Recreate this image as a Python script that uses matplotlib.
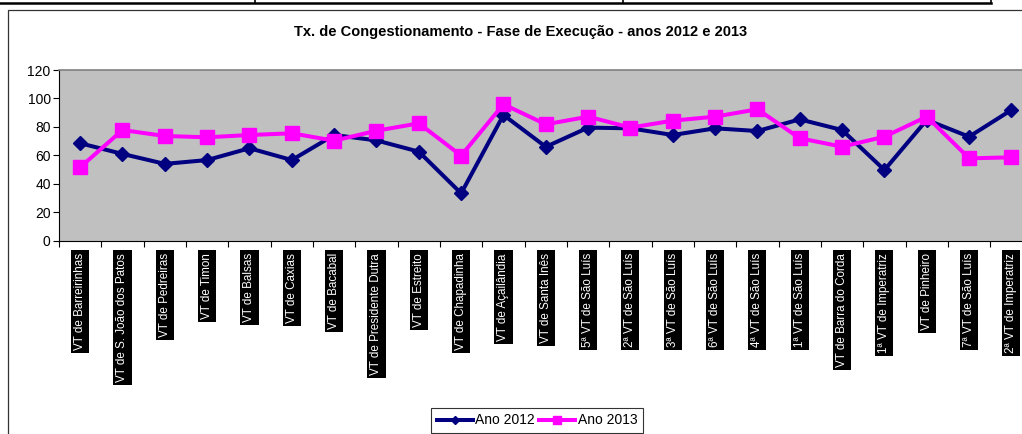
import numpy as np
import matplotlib.pyplot as plt
from matplotlib.lines import Line2D
from matplotlib.patches import Rectangle

plt.rcParams['font.family'] = ['Liberation Sans', 'DejaVu Sans']

# Data
varas = [
    "VT de Barreirinhas", "VT de S. João dos Patos", "VT de Pedreiras", "VT de Timon",
    "VT de Balsas", "VT de Caxias", "VT de Bacabal", "VT de Presidente Dutra",
    "VT de Estreito", "VT de Chapadinha", "VT de Açailândia", "VT de Santa Inês",
    "5ª VT de São Luís", "2ª VT de São Luís", "3ª VT de São Luís", "6ª VT de São Luís",
    "4ª VT de São Luís", "1ª VT de São Luís", "VT de Barra do Corda", "1ª VT de Imperatriz",
    "VT de Pinheiro", "7ª VT de São Luís", "2ª VT de Imperatriz",
]
ano_2012 = [68.5, 61, 54, 56.7, 65, 56.7, 74.3, 70.5, 62.6, 33.3, 88.4, 66,
            79.5, 79, 74.3, 79, 77.1, 85.3, 77.8, 49.7, 84.9, 73.1, 91.9]
ano_2013 = [51.6, 77.8, 73.6, 72.7, 74.3, 75.5, 70.3, 77.3, 82.5, 59.8, 95.9, 81.8,
            87.2, 79.5, 84.4, 87.2, 92.4, 72, 66.1, 73.1, 87.2, 57.9, 58.6]
yticks = [0, 20, 40, 60, 80, 100, 120]

W, H = 1022, 434
fig = plt.figure(figsize=(W / 100, H / 100), dpi=100)

# document table fragment at the top and chart border
fig.add_artist(Line2D([0, 991 / W], [1 - 3 / H, 1 - 3 / H], color='black', lw=1.8))
for xv in [255, 623, 991]:
    fig.add_artist(Line2D([xv / W, xv / W], [1, 1 - 3 / H], color='black', lw=1.2))
fig.add_artist(Rectangle((8 / W, -0.01), 1.1, 1 - 10 / H + 0.01, fill=False,
                         edgecolor='#333333', lw=0.9))

ax = fig.add_axes([59 / W, (H - 240.7) / H, 973.6 / W, 170.7 / H])
ax.set_facecolor('#C0C0C0')
x = np.arange(len(varas))
l1, = ax.plot(x, ano_2012, color='#000080', lw=2.9, marker='D', markersize=7.5,
              label='Ano 2012', zorder=3)
l2, = ax.plot(x, ano_2013, color='#FF00FF', lw=2.9, marker='s', markersize=10.5,
              label='Ano 2013', zorder=4)

ax.set_xlim(-0.5, len(varas) - 0.5)
ax.set_ylim(0, 120)
ax.set_yticks(yticks)
ax.tick_params(axis='y', labelsize=10, length=4, width=0.8, pad=2, colors='black')
ax.set_xticks(x)
ax.set_xticks(np.arange(-0.5, len(varas)), minor=True)
ax.tick_params(axis='x', which='major', length=0, pad=9)
ax.tick_params(axis='x', which='minor', length=4, width=0.8)
ax.set_xticklabels(varas, rotation=90, va='top', ha='center', fontsize=8.4, color='white')
for lab in ax.get_xticklabels():
    lab.set_bbox(dict(facecolor='black', edgecolor='none', pad=2.2))

for side in ['top', 'right']:
    ax.spines[side].set_color('#808080')
    ax.spines[side].set_linewidth(1.2)
ax.spines['left'].set_color('black')
ax.spines['bottom'].set_color('black')

fig.text(521 / W, 1 - 32 / H, 'Tx. de Congestionamento - Fase de Execução - anos 2012 e 2013',
         ha='center', va='center', fontsize=10.5, fontweight='bold')

leg = fig.legend(handles=[l1, l2], loc='lower left', bbox_to_anchor=(431 / W, 1 / H),
                 ncol=2, fontsize=10, frameon=True, fancybox=False, handlelength=2.6,
                 handletextpad=0.2, columnspacing=0.3, borderpad=0.4, borderaxespad=0,
                 markerscale=0.5)
leg.get_frame().set_edgecolor('black')
leg.get_frame().set_linewidth(0.8)

fig.savefig('out.png', dpi=100)
